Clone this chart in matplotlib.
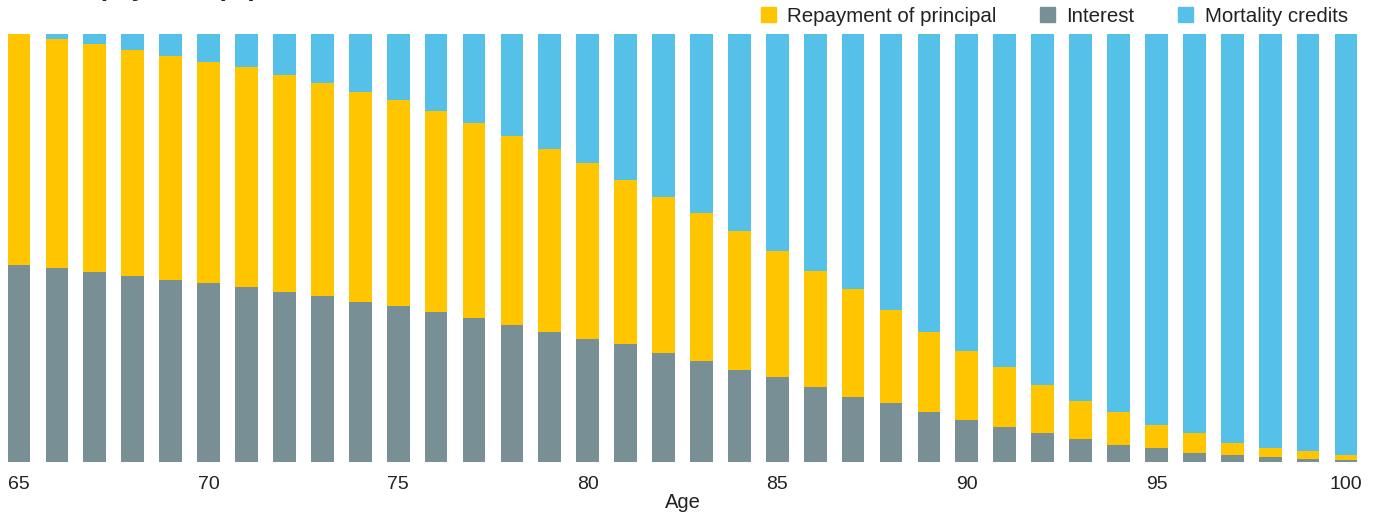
import numpy as np
import matplotlib
matplotlib.use("Agg")
import matplotlib.pyplot as plt
from matplotlib.patches import Patch

plt.rcParams['font.family'] = ['Liberation Sans', 'DejaVu Sans']

ages = list(range(65, 101))
interest = [46.0, 45.3, 44.4, 43.5, 42.5, 41.8, 40.9, 39.7, 38.8, 37.4,
            36.4, 35.0, 33.6, 32.0, 30.4, 28.7, 27.6, 25.5, 23.6, 21.5,
            19.9, 17.5, 15.2, 13.8, 11.7, 9.8, 8.2, 6.8, 5.4, 4.0,
            3.3, 2.1, 1.6, 1.2, 0.7, 0.5]
principal = [54.0, 53.5, 53.3, 52.8, 52.3, 51.6, 51.4, 50.7, 49.8, 49.1,
             48.1, 47.0, 45.6, 44.2, 42.8, 41.1, 38.3, 36.4, 34.6, 32.5,
             29.4, 27.1, 25.2, 21.7, 18.7, 16.1, 14.0, 11.2, 8.9, 7.7,
             5.4, 4.7, 2.8, 2.1, 1.9, 1.2]
# mortality credits make up the rest of each payment
mortality = [100 - i - p for i, p in zip(interest, principal)]

c_principal = '#FFC600'
c_interest = '#798F96'
c_mortality = '#55C1E8'

fig = plt.figure(figsize=(13.81, 5.15), dpi=100)
ax = fig.add_axes([7.6 / 1381, 53 / 515, 1349.8 / 1381, 428 / 515])

x = np.array(ages)
interest = np.array(interest)
principal = np.array(principal)
mortality = np.array(mortality)
w = 0.6
ax.bar(x, interest, w, color=c_interest)
ax.bar(x, principal, w, bottom=interest, color=c_principal)
ax.bar(x, mortality, w, bottom=interest + principal, color=c_mortality)

ax.set_xlim(64.7, 100.3)
ax.set_ylim(0, 100)
ax.set_yticks([])
ax.set_xticks(range(65, 101, 5))
ax.tick_params(axis='x', length=0, pad=10, labelsize=14, labelcolor='#222222')
for s in ax.spines.values():
    s.set_visible(False)
ax.set_xlabel('Age', fontsize=14.5, color='#222222', labelpad=0)

handles = [Patch(color=c_principal, label='Repayment of principal'),
           Patch(color=c_interest, label='Interest'),
           Patch(color=c_mortality, label='Mortality credits')]
fig.legend(handles=handles, loc='center right', bbox_to_anchor=(1358 / 1381, 1 - 16 / 515),
           ncol=3, frameon=False, fontsize=14.8, handlelength=0.75, handleheight=0.75,
           handletextpad=0.55, columnspacing=2.1, borderpad=0, labelcolor='#222222')

# chart heading sits mostly above the top edge
fig.text(4 / 1381, 1 + 4 / 515, 'Annual payment (%)', fontsize=19, fontweight='bold',
         va='baseline', ha='left', color='#222222')

fig.savefig('out.png', dpi=100)
